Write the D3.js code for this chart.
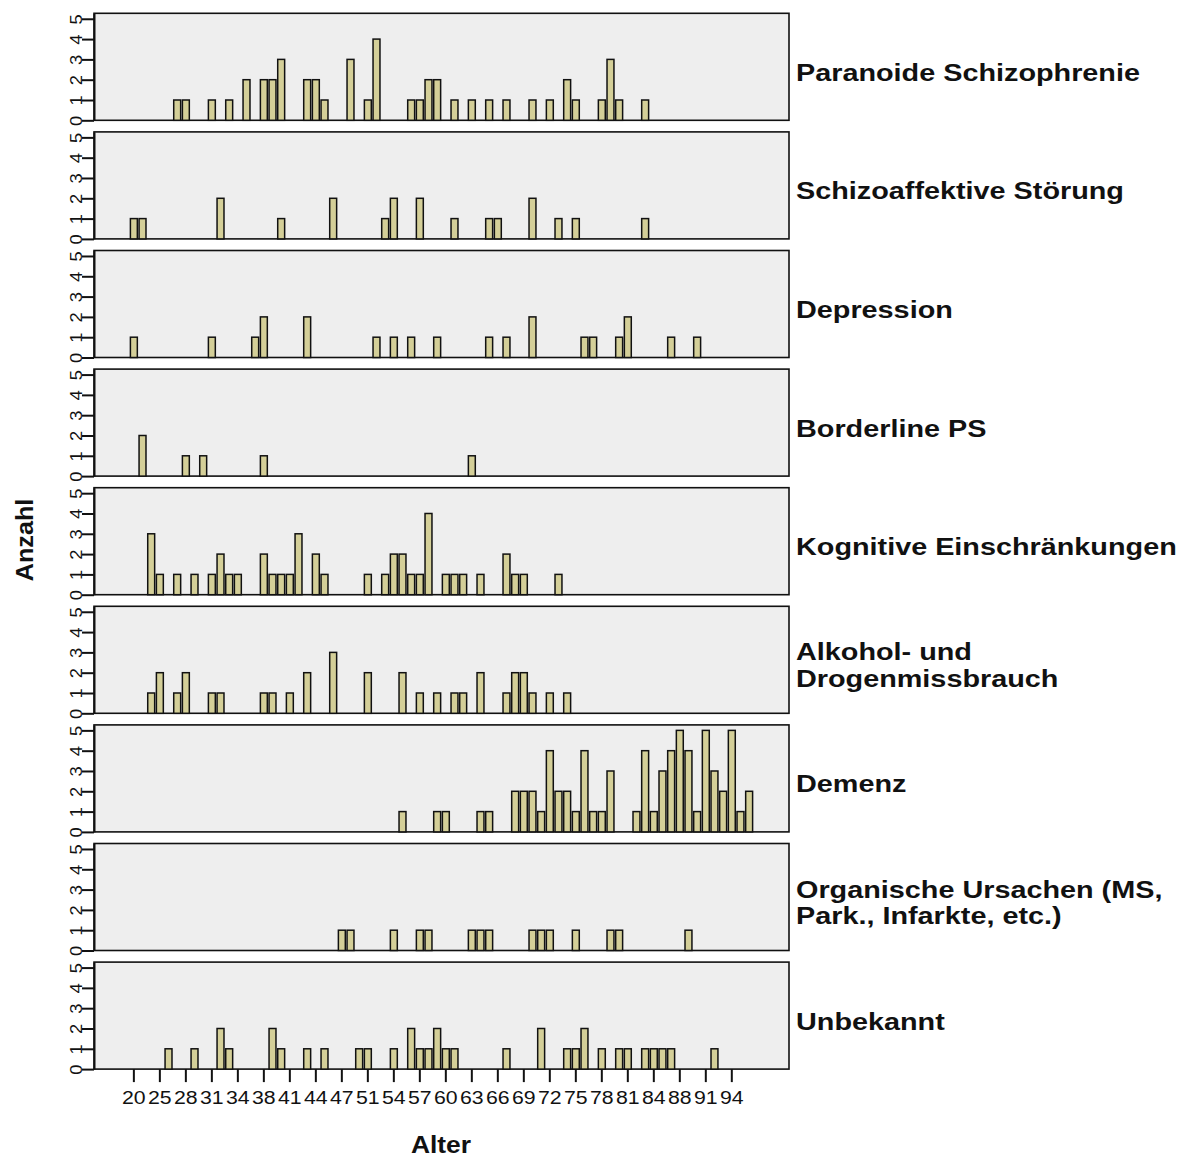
<!DOCTYPE html>
<html>
<head>
<meta charset="utf-8">
<script src="https://cdn.jsdelivr.net/npm/d3@7"></script>
<style>
  body { margin: 0; background: #ffffff; }
  svg { display: block; font-family: "Liberation Sans", Arial, sans-serif; }
</style>
</head>
<body>
<svg id="chart" width="1193" height="1157"></svg>
<script>
// ---- categories (ages present on the x axis) ----
const ages = [20, 22, 23, 25, 26, 27, 28, 29, 30, 31, 32, 33, 34, 35, 36, 38, 39, 40, 41, 42,
  43, 44, 45, 46, 47, 48, 49, 51, 52, 53, 54, 55, 56, 57, 58, 59, 60, 61, 62, 63,
  64, 65, 66, 67, 68, 69, 70, 71, 72, 73, 74, 75, 76, 77, 78, 79, 80, 81, 82, 83,
  84, 85, 86, 88, 89, 90, 91, 92, 93, 94, 95, 96];
const xTickLabels = [20, 25, 28, 31, 34, 38, 41, 44, 47, 51, 54, 57, 60, 63, 66, 69, 72, 75, 78, 81, 84, 88, 91, 94];
const yTicks = [0, 1, 2, 3, 4, 5];

// ---- panel labels ----
const groupLabels = [
  ["Paranoide Schizophrenie"],
  ["Schizoaffektive Störung"],
  ["Depression"],
  ["Borderline PS"],
  ["Kognitive Einschränkungen"],
  ["Alkohol- und", "Drogenmissbrauch"],
  ["Demenz"],
  ["Organische Ursachen (MS,", "Park., Infarkte, etc.)"],
  ["Unbekannt"]
];

// ---- counts per age, [age, count] ----
const paranoide = [[27,1],[28,1],[31,1],[33,1],[35,2],[38,2],[39,2],[40,3],[43,2],[44,2],[45,1],[48,3],
  [51,1],[52,4],[56,1],[57,1],[58,2],[59,2],[61,1],[63,1],[65,1],[67,1],[70,1],[72,1],[74,2],[75,1],
  [78,1],[79,3],[80,1],[83,1]];
const schizoaffektiv = [[20,1],[22,1],[32,2],[40,1],[46,2],[53,1],[54,2],[57,2],[61,1],[65,1],[66,1],
  [70,2],[73,1],[75,1],[83,1]];
const depression = [[20,1],[31,1],[36,1],[38,2],[43,2],[52,1],[54,1],[56,1],[59,1],[65,1],[67,1],
  [70,2],[76,1],[77,1],[80,1],[81,2],[86,1],[90,1]];
const borderline = [[22,2],[28,1],[30,1],[38,1],[63,1]];
const kognitiv = [[23,3],[25,1],[27,1],[29,1],[31,1],[32,2],[33,1],[34,1],[38,2],[39,1],[40,1],[41,1],
  [42,3],[44,2],[45,1],[51,1],[53,1],[54,2],[55,2],[56,1],[57,1],[58,4],[60,1],[61,1],[62,1],[64,1],
  [67,2],[68,1],[69,1],[73,1]];
const alkohol = [[23,1],[25,2],[27,1],[28,2],[31,1],[32,1],[38,1],[39,1],[41,1],[43,2],[46,3],[51,2],
  [55,2],[57,1],[59,1],[61,1],[62,1],[64,2],[67,1],[68,2],[69,2],[70,1],[72,1],[74,1]];
const demenz = [[55,1],[59,1],[60,1],[64,1],[65,1],[68,2],[69,2],[70,2],[71,1],[72,4],[73,2],[74,2],
  [75,1],[76,4],[77,1],[78,1],[79,3],[82,1],[83,4],[84,1],[85,3],[86,4],[88,5],[89,4],[90,1],[91,5],
  [92,3],[93,2],[94,5],[95,1],[96,2]];
const organisch = [[47,1],[48,1],[54,1],[57,1],[58,1],[63,1],[64,1],[65,1],[70,1],[71,1],[72,1],
  [75,1],[79,1],[80,1],[89,1]];
const unbekannt = [[26,1],[29,1],[32,2],[33,1],[39,2],[40,1],[43,1],[45,1],[49,1],[51,1],[54,1],
  [56,2],[57,1],[58,1],[59,2],[60,1],[61,1],[67,1],[71,2],[74,1],[75,1],[76,2],[78,1],[80,1],[81,1],
  [83,1],[84,1],[85,1],[86,1],[92,1]];

const groupData = [paranoide, schizoaffektiv, depression, borderline, kognitiv, alkohol, demenz, organisch, unbekannt];

// ---- layout ----
const plotLeft = 94, plotRight = 789;
const firstTop = 13.3, panelH = 107, pitch = 118.6;
const yMax = 5.27;
const barFill = "#d4cf98", panelBg = "#eeeeee";

const svg = d3.select("#chart");

const x = d3.scaleBand()
  .domain(ages)
  .range([plotLeft, plotRight])
  .paddingInner(0.2)
  .paddingOuter(4.2);

groupData.forEach((data, k) => {
  const top = firstTop + k * pitch;
  const bottom = top + panelH;
  const y = d3.scaleLinear().domain([0, yMax]).range([bottom, top]);
  const g = svg.append("g");

  g.append("rect")
    .attr("x", plotLeft).attr("y", top)
    .attr("width", plotRight - plotLeft).attr("height", panelH)
    .attr("fill", panelBg).attr("stroke", "#111").attr("stroke-width", 1.6);

  g.selectAll("rect.bar").data(data).join("rect")
    .attr("class", "bar")
    .attr("x", d => x(d[0]))
    .attr("y", d => y(d[1]))
    .attr("width", x.bandwidth())
    .attr("height", d => y(0) - y(d[1]))
    .attr("fill", barFill)
    .attr("stroke", "#111")
    .attr("stroke-width", 1.5);

  // y axis
  const ya = g.append("g")
    .attr("transform", `translate(${plotLeft},0)`)
    .call(d3.axisLeft(y).tickValues(yTicks).tickSize(12).tickSizeOuter(0).tickFormat(d3.format("d")));
  ya.select(".domain").attr("stroke", "#111").attr("stroke-width", 2);
  ya.selectAll(".tick line").attr("stroke", "#111").attr("stroke-width", 2);
  ya.selectAll(".tick text")
    .attr("x", 0).attr("y", 0).attr("dy", "0")
    .attr("text-anchor", "middle")
    .attr("transform", "translate(-12,0) rotate(-90) scale(1.15,1)")
    .style("font-size", "16px")
    .attr("fill", "#111");

  // group label
  const lines = groupLabels[k];
  const cy = top + panelH / 2;
  const label = g.append("text")
    .attr("font-weight", "bold")
    .attr("font-size", 24)
    .attr("fill", "#111")
    .attr("transform", `translate(796,${cy + (lines.length === 1 ? 14 : 0.5)}) scale(1.2,1)`);
  lines.forEach((t, i) => {
    label.append("tspan").attr("x", 0).attr("y", i * 27).text(t);
  });

  if (k === groupData.length - 1) {
    const xa = g.append("g")
      .attr("transform", `translate(0,${bottom})`)
      .call(d3.axisBottom(x).tickValues(xTickLabels).tickSize(13).tickSizeOuter(0).tickPadding(8));
    xa.select(".domain").remove();
    xa.selectAll(".tick line").attr("stroke", "#111").attr("stroke-width", 2);
    xa.selectAll(".tick text").style("font-size", "19px").attr("fill", "#111")
      .attr("dy", "0.71em")
      .attr("transform", "scale(1.12,1)");
  }
});

// axis titles
svg.append("text")
  .attr("transform", "translate(33,540) rotate(-90) scale(1.05,1)")
  .attr("text-anchor", "middle")
  .attr("font-weight", "bold").attr("font-size", 24).attr("fill", "#111")
  .text("Anzahl");

svg.append("text")
  .attr("transform", "translate(441,1153) scale(1.1,1)")
  .attr("text-anchor", "middle")
  .attr("font-weight", "bold").attr("font-size", 24).attr("fill", "#111")
  .text("Alter");
</script>
</body>
</html>
